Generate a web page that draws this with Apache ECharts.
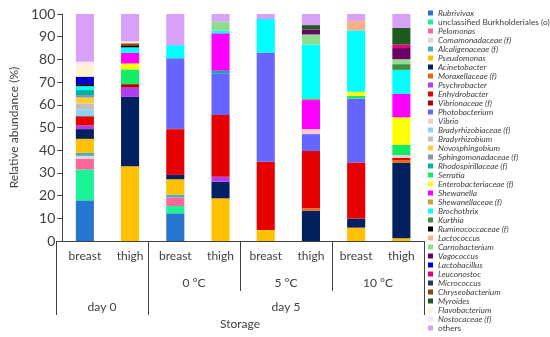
<!DOCTYPE html>
<html><head><meta charset="utf-8">
<script src="https://cdn.jsdelivr.net/npm/echarts@6/dist/echarts.min.js"></script>
<style>html,body{margin:0;padding:0;background:#fff}#c{width:550px;height:337px}</style>
</head><body><div id="c"></div>
<script>
// Sample categories (bottom level), storage temperatures, storage days
const samples = ['d0-breast','d0-thigh','0C-breast','0C-thigh','5C-breast','5C-thigh','10C-breast','10C-thigh'];
const sampleLabels = ['breast','thigh','breast','thigh','breast','thigh','breast','thigh'];
const storageLabels = ['0 °C','5 °C','10 °C'];
const dayLabels = ['day 0','day 5'];

const taxa = ['Rubrivivax','unclassified Burkholderiales (o)','Pelomonas','Comamonadaceae (f)','Alcaligenaceae (f)',
 'Pseudomonas','Acinetobacter','Moraxellaceae (f)','Psychrobacter','Enhydrobacter','Vibrionaceae (f)',
 'Photobacterium','Vibrio','Bradyrhizobiaceae (f)','Bradyrhizobium','Novosphingobium','Sphingomonadaceae (f)',
 'Rhodospirillaceae (f)','Serratia','Enterobacteriaceae (f)','Shewanella','Shewanellaceae (f)','Brochothrix',
 'Kurthia','Ruminococcaceae (f)','Lactococcus','Carnobacterium','Vagococcus','Lactobacillus','Leuconostoc',
 'Micrococcus','Chryseobacterium','Myroides','Flavobacterium','Nostocaceae (f)','others'];

// Relative abundance (%) per sample, in the order of taxa
const day0Breast  = [17.9,13.6,4.8,1.2,1.3, 6.2,4.3,0,1.6,3.8,0.3, 0,0,2.9,2.7,2.6,1.1, 2.2,0,0,0,0,1.7, 0,0.9,0,0,0,3.3,0, 0,0,0,5.1,1.5,21.0];
const day0Thigh   = [0,0,0,0,0, 32.9,30.6,0,4.1,0,1.5, 0,0,0,0,0,0, 0,6.5,2.6,4.7,0,2.4, 0,0.6,0,0,0,0,0, 0,1.2,0,0.8,0,12.1];
const c0Breast    = [12.2,3.2,3.8,0,1.2, 6.8,1.9,0,0,20.1,0.4, 30.9,0,0,0,0,0, 0,0,0,0,0,5.8, 0,0,0,0,0,0,0, 0,0,0,0,0,13.7];
const c0Thigh     = [0,0,0,0,0, 18.8,7.3,0,2.2,27.2,0, 18.4,0,0,0,0,0, 1.1,0,0,16.5,0,1.1, 0,0,0,4.0,0,0,0, 0,0,0,0,0,3.4];
const c5Breast    = [0,0,0,0,0, 4.8,0,0,0,30.1,0, 48.1,0,0,0,0,0, 0,0,0,0,0,14.8, 0,0,0,0,0,0,0, 0,0,0,0,0,2.2];
const c5Thigh     = [0,0,0,0,0, 0,13.4,1.0,0,25.2,0, 7.5,2.2,0,0,0,0, 0,0,0,12.8,0.5,24.0, 0,0,0,4.4,2.2,0,0, 0,0,1.9,0,0,4.9];
const c10Breast   = [0,0,0,0,0, 5.9,4.0,0,0,24.7,0, 28.2,0,0,0,0,0, 0,1.2,1.8,0,0,26.9, 0,0,4.3,0,0,0,0, 0,0,0,0,0,3.0];
const c10Thigh    = [0,0,0,0,0, 1.2,33.2,1.2,0,1.0,0, 0,1.2,0,0,0,0, 0,4.6,12.1,10.3,0,10.6, 2.5,0,0,2.2,4.9,0,1.5, 0,0,7.4,0,0,6.1];
const sampleValues = [day0Breast, day0Thigh, c0Breast, c0Thigh, c5Breast, c5Thigh, c10Breast, c10Thigh];

const colors = ['#2676CF','#1CF397','#FF6699','#D9D9D9','#4BACC6','#FFC000','#002060','#E36C09','#B23DF2','#E60000','#B00000',
 '#6666FF','#F8CBCB','#8FD1F5','#BFBFBF','#FFCC33','#8497B0','#00B39B','#12EC66','#FFFF00','#FF00FF','#C9A33A','#00FFFF',
 '#3D8F3D','#000000','#F8B08A','#8EDC8E','#6B0066','#0000CC','#E6007E','#1F3864','#8B4513','#1E5A1E','#FFF2CC','#FFE3F6','#D9A0F8'];

const FONT = 'Lato';
const AX = '#404040';

const series = taxa.map((name, t) => ({
  name: name,
  type: 'bar',
  stack: 'total',
  barWidth: '40%',
  xAxisIndex: 0, yAxisIndex: 0,
  itemStyle: { color: colors[t] },
  emphasis: { disabled: true },
  data: sampleValues.map(s => s[t])
}));

const chart = echarts.init(document.getElementById('c'), null, { renderer: 'canvas' });
const gridBox = { left: 56, top: 14, width: 368, height: 227 };
chart.setOption({
  animation: false,
  backgroundColor: '#fff',
  textStyle: { fontFamily: FONT },
  grid: [Object.assign({}, gridBox), Object.assign({}, gridBox), Object.assign({}, gridBox)],
  xAxis: [
    { type: 'category', gridIndex: 0, data: samples,
      axisLine: { show: true, lineStyle: { color: AX, width: 1 } },
      axisTick: { show: false },
      axisLabel: { margin: 9, fontSize: 12, color: AX, fontFamily: FONT, interval: 0,
        formatter: (v, i) => sampleLabels[i] } },
    { type: 'value', gridIndex: 1, min: 0, max: 8, position: 'bottom',
      axisLine: { show: false }, splitLine: { show: false },
      axisTick: { show: true, customValues: [2, 4, 6], length: 50, lineStyle: { color: AX } },
      axisLabel: { customValues: [3, 5, 7], margin: 36, fontSize: 12, color: AX, fontFamily: FONT,
        formatter: v => storageLabels[Math.round((v - 3) / 2)] } },
    { type: 'value', gridIndex: 2, min: 0, max: 8, position: 'bottom',
      axisLine: { show: false }, splitLine: { show: false },
      axisTick: { show: true, customValues: [0, 2, 8], length: 74, lineStyle: { color: AX } },
      axisLabel: { customValues: [1, 5], margin: 60, fontSize: 12, color: AX, fontFamily: FONT,
        formatter: v => dayLabels[v < 3 ? 0 : 1] },
      name: 'Storage', nameLocation: 'middle', nameGap: 77,
      nameTextStyle: { fontSize: 12, color: AX, fontFamily: FONT } }
  ],
  yAxis: [
    { type: 'value', gridIndex: 0, min: 0, max: 100, interval: 10,
      axisLine: { show: true, lineStyle: { color: AX } },
      axisTick: { show: true, length: 5, lineStyle: { color: AX } },
      splitLine: { show: false },
      axisLabel: { fontSize: 14, color: AX, margin: 7, fontFamily: FONT },
      name: 'Relative abundance (%)', nameLocation: 'middle', nameGap: 39,
      nameTextStyle: { fontSize: 12, color: AX, fontFamily: FONT } },
    { type: 'value', gridIndex: 1, min: 0, max: 1, show: false },
    { type: 'value', gridIndex: 2, min: 0, max: 1, show: false }
  ],
  legend: {
    orient: 'vertical', left: 428, top: 8.5, padding: 0,
    itemWidth: 5, itemHeight: 5, itemGap: 0,
    icon: 'rect',
    data: taxa,
    formatter: n => (n === 'others' || n.indexOf('unclassified') === 0) ? '{n|' + n + '}' : '{i|' + n + '}',
    textStyle: {
      fontSize: 8.3, color: '#404040', lineHeight: 9, fontFamily: FONT,
      rich: {
        i: { fontSize: 8.3, fontStyle: 'italic', color: '#404040', lineHeight: 9, fontFamily: FONT },
        n: { fontSize: 8.3, color: '#404040', lineHeight: 9, fontFamily: FONT }
      }
    }
  },
  series: series
});
</script>
</body></html>
